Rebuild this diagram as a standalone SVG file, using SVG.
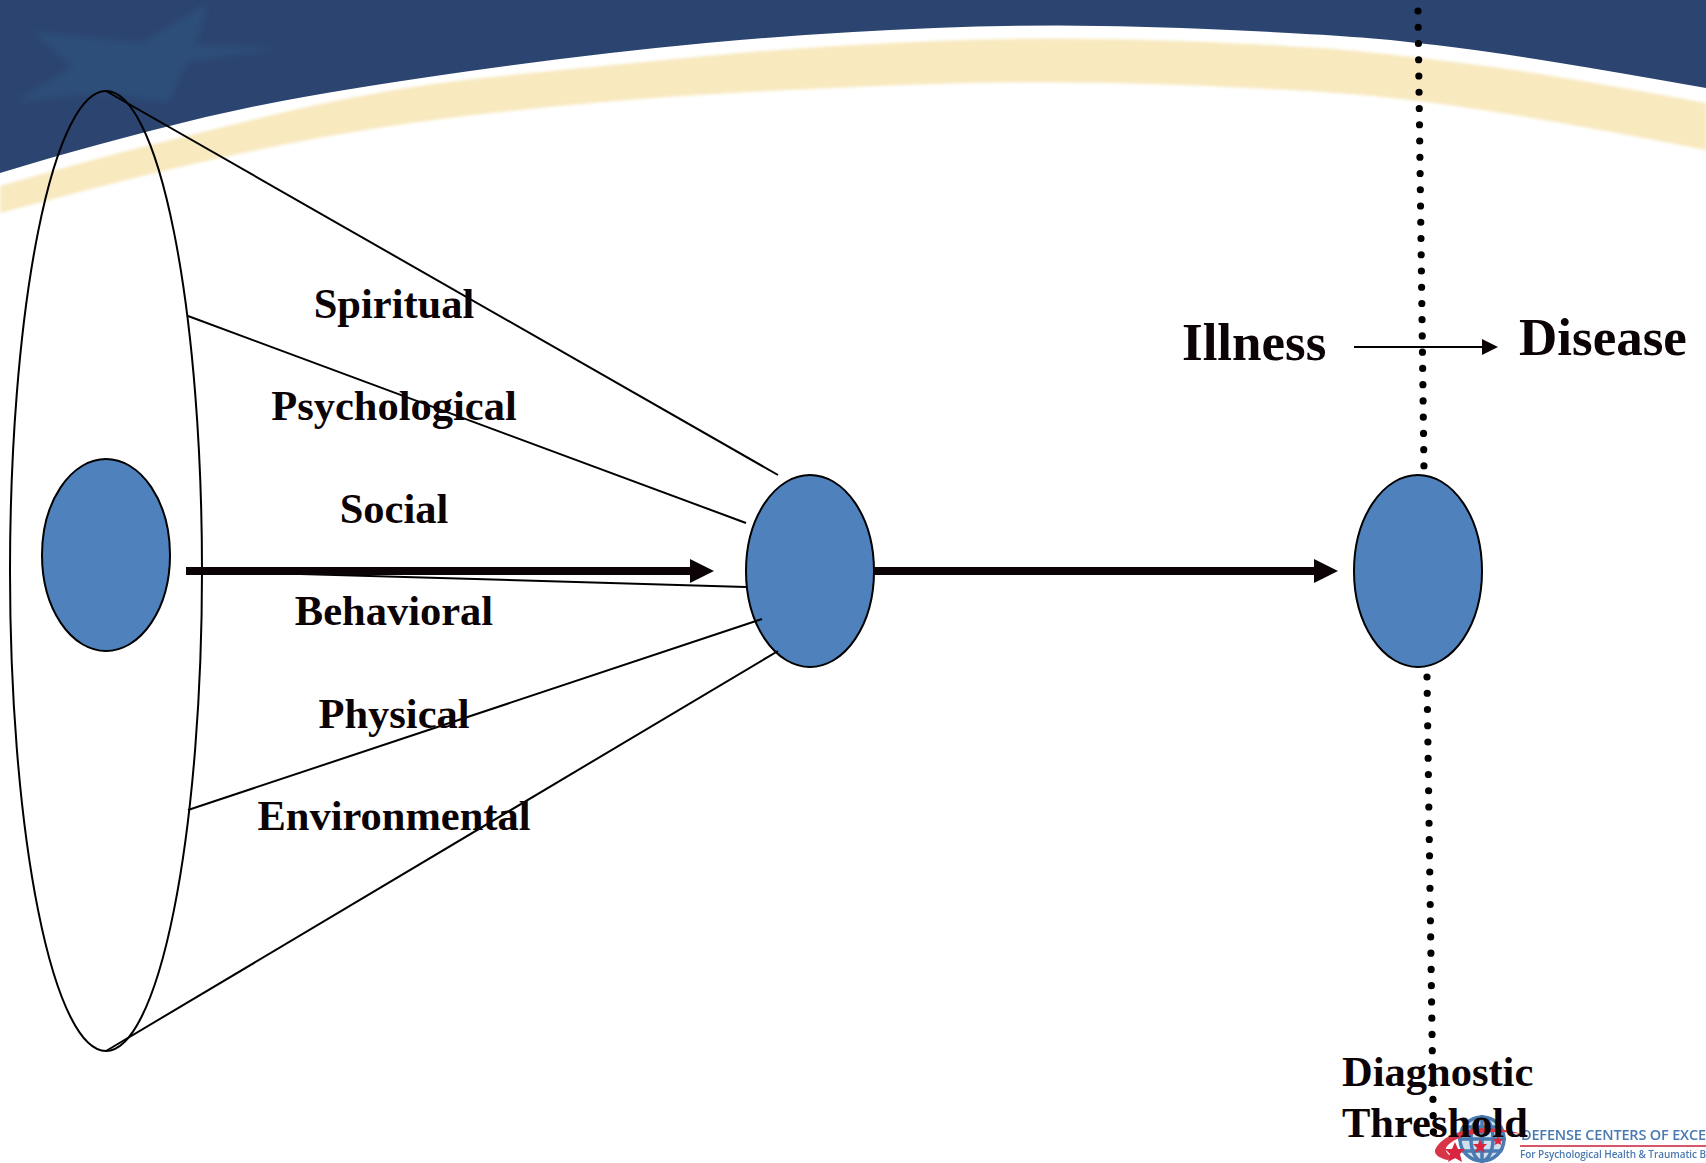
<svg xmlns="http://www.w3.org/2000/svg" width="1706" height="1163" viewBox="0 0 1706 1163">
<defs>
<style>
.lbl{font-family:"Liberation Serif","Times New Roman",serif;font-weight:700;font-size:42.5px;fill:#0b0305}
.mid{text-anchor:middle}
.big{font-size:53px}
.node{fill:#4F81BD;stroke:#000;stroke-width:2}
.thin{fill:none;stroke:#000;stroke-width:2}
.thick{fill:none;stroke:#0b0305;stroke-width:8}
.dots{fill:none;stroke:#000;stroke-width:7.2;stroke-linecap:round;stroke-dasharray:0 16.25}
.logo{font-family:"Open Sans","Liberation Sans",sans-serif;font-weight:600;fill:#4a7ab0}
</style>
<marker id="headL" markerUnits="userSpaceOnUse" markerWidth="24" markerHeight="24" refX="0" refY="12" orient="auto"><path d="M0 0L24 12L0 24Z" fill="#0b0305"/></marker>
<marker id="headS" markerUnits="userSpaceOnUse" markerWidth="16" markerHeight="16" refX="0" refY="8" orient="auto"><path d="M0 0L16 8L0 16Z" fill="#0b0305"/></marker>
<filter id="soft" x="-2%" y="-5%" width="104%" height="110%"><feGaussianBlur stdDeviation="1.6"/></filter>
<filter id="soft2" x="-5%" y="-5%" width="110%" height="110%"><feGaussianBlur stdDeviation="3"/></filter>
<filter id="soft3" x="-5%" y="-5%" width="110%" height="110%"><feGaussianBlur stdDeviation="0.6"/></filter>
<clipPath id="globeClip"><circle cx="1482" cy="1139" r="24"/></clipPath>
</defs>
<g id="background">
<rect width="1706" height="1163" fill="#fff"/>
<path d="M0 0H1706V88Q1560 62 1489 52Q1418 42 1361.500 37.500Q1305 33 1181.500 28Q1058 23 935 28Q812 33 706 43Q600 53 491.500 68Q383 83 306.500 96.500Q230 110 153.500 130Q77 150 38.500 161.500L0 173Z" fill="#2c4570"/>
<path d="M34 32L142 43L208 3L195 45L279 48L187 62L168 102L100 93L15 102L73 67Z" fill="#2f5580" opacity=".6" filter="url(#soft2)"/>
<path d="M0 186L38.500 175Q77 164 115 154Q153 144 268 116Q383 88 491.500 77Q600 66 706 56Q812 46 935 41Q1058 36 1181.500 41Q1305 46 1361.500 51.500Q1418 57 1489 66.500Q1560 76 1706 103V150Q1560 122 1489 111Q1418 100 1361.500 95Q1305 90 1181.500 85Q1058 80 935 84Q812 88 706 94.500Q600 101 491.500 113Q383 125 287 144Q191 163 95 188L0 213Z" fill="#f8e9bf" filter="url(#soft)"/>
</g>
<g id="node-outer"><ellipse cx="106" cy="571" rx="96" ry="480" class="thin"/></g>
<g id="node-inner"><ellipse cx="106" cy="555" rx="64" ry="96" class="node"/></g>
<g id="node-middle"><ellipse cx="810" cy="571" rx="64" ry="96" class="node"/></g>
<g id="node-threshold"><ellipse cx="1418" cy="571" rx="64" ry="96" class="node"/></g>
<g id="connectors">
<line x1="106" y1="91" x2="778" y2="475" class="thin"/>
<line x1="188" y1="316" x2="746" y2="523" class="thin"/>
<line x1="300" y1="574" x2="746" y2="587" class="thin"/>
<line x1="188" y1="810" x2="762" y2="619" class="thin"/>
<line x1="106" y1="1051" x2="778" y2="651" class="thin"/>
<line x1="186" y1="571" x2="690" y2="571" class="thick" marker-end="url(#headL)"/>
<line x1="874" y1="571" x2="1314" y2="571" class="thick" marker-end="url(#headL)"/>
<line x1="1418" y1="11" x2="1424" y2="470" class="dots"/>
<line x1="1427" y1="677" x2="1433.500" y2="1137" class="dots"/>
<line x1="1354" y1="347" x2="1482" y2="347" class="thin" marker-end="url(#headS)"/>
</g>
<g id="logo">
<g filter="url(#soft3)">
<circle cx="1482" cy="1139" r="24" fill="#cfdff0"/>
<g clip-path="url(#globeClip)" fill="none" stroke="#4a7ab0" stroke-width="3.500">
<ellipse cx="1482" cy="1139" rx="22" ry="22"/>
<ellipse cx="1482" cy="1139" rx="11" ry="22"/>
<line x1="1458" y1="1127" x2="1506" y2="1127"/>
<line x1="1458" y1="1139" x2="1506" y2="1139"/>
<line x1="1458" y1="1151" x2="1506" y2="1151"/>
<line x1="1482" y1="1115" x2="1482" y2="1163"/>
</g>
<path d="M1435 1150C1442 1134 1475 1120 1522 1134C1485 1128 1452 1136 1446 1148C1445 1153 1450 1156 1456 1158L1447 1160C1440 1158 1434 1155 1435 1150Z" fill="#d9364a"/>
<path d="M1455 1142L1458 1149L1465 1149L1460 1154L1462 1162L1455 1158L1448 1162L1450 1154L1445 1149L1452 1149Z" fill="#d9283f"/>
<path d="M1480 1139L1482 1144L1487 1144L1483 1148L1485 1153L1480 1150L1475 1153L1477 1148L1473 1144L1478 1144Z" fill="#d9283f"/>
<path d="M1498 1136L1499.500 1139L1503 1139L1500.500 1142L1501.500 1145L1498 1143.500L1494.500 1145L1495.500 1142L1493 1139L1496.500 1139Z" fill="#d9283f"/>
<rect x="1520" y="1145" width="186" height="2" fill="#d9566a"/>
<text x="1521" y="1140" class="logo" font-size="14.500" textLength="185">DEFENSE CENTERS OF EXCE</text>
<text x="1520" y="1158" class="logo" font-size="10" textLength="186">For Psychological Health &amp; Traumatic B</text>
</g>
</g>
<g id="labels">
<text x="394" y="318" class="lbl mid">Spiritual</text>
<text x="394" y="420" class="lbl mid">Psychological</text>
<text x="394" y="523" class="lbl mid">Social</text>
<text x="394" y="625" class="lbl mid">Behavioral</text>
<text x="394" y="728" class="lbl mid">Physical</text>
<text x="394" y="830" class="lbl mid">Environmental</text>
<text x="1182" y="360" class="lbl big">Illness</text>
<text x="1519" y="355" class="lbl big">Disease</text>
<text x="1342" y="1086" class="lbl">Diagnostic</text>
<text x="1342" y="1137" class="lbl">Threshold</text>
</g>
</svg>
